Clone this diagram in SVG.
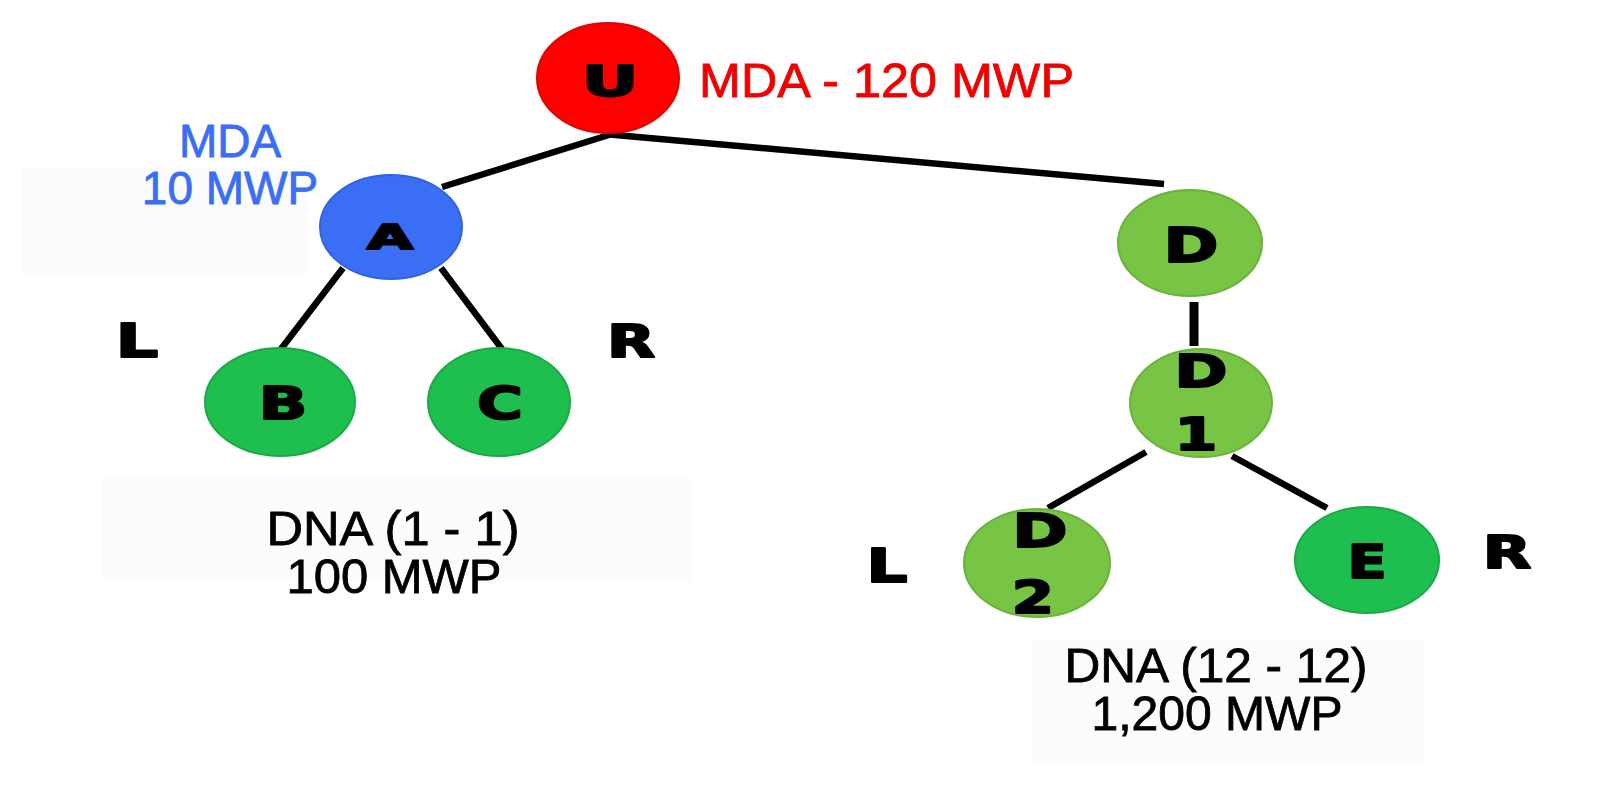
<svg xmlns="http://www.w3.org/2000/svg" width="1600" height="793" viewBox="0 0 1600 793">
  <style>
    .lbl { font-family: "Liberation Sans", Arial, sans-serif; stroke-width: 0.8; }
    .ltr { font-family: "DejaVu Sans", Verdana, sans-serif; font-weight: bold; fill: #000; stroke: #000; stroke-width: 2; stroke-linejoin: round; text-anchor: middle; }
    .edge { stroke: #000; stroke-width: 6.5; fill: none; stroke-linecap: butt; }
    .red { fill: #ff0000; stroke: #e80000; stroke-width: 2; }
    .blue { fill: #3a6ef5; stroke: #3262e0; stroke-width: 2; }
    .green { fill: #1fbf4f; stroke: #19aa45; stroke-width: 2; }
    .lgreen { fill: #78c445; stroke: #6ab23c; stroke-width: 2; }
    .bg { fill: #fcfcfc; }
  </style>
  <rect width="1600" height="793" fill="#ffffff"/>
  <g id="backgrounds">
    <rect class="bg" x="22" y="168" width="286" height="106"/>
    <rect class="bg" x="102" y="478" width="590" height="104"/>
    <rect class="bg" x="1032" y="640" width="392" height="126"/>
  </g>
  <g id="connectors">
    <line class="edge" x1="612" y1="134" x2="442" y2="187"/>
    <line class="edge" x1="604" y1="134" x2="1164" y2="184"/>
    <line class="edge" x1="343" y1="268" x2="281" y2="349"/>
    <line class="edge" x1="441" y1="268" x2="502" y2="349"/>
    <line class="edge" x1="1194" y1="302" x2="1194" y2="346" style="stroke-width:9"/>
    <line class="edge" x1="1146" y1="452" x2="1048" y2="508"/>
    <line class="edge" x1="1232" y1="456" x2="1327" y2="508"/>
  </g>
  <g id="node-U">
    <ellipse class="red" cx="608" cy="78" rx="71" ry="55"/>
    <text class="ltr" font-size="42" transform="translate(610 96) scale(1.65 1)">U</text>
  </g>
  <g id="label-U">
    <text class="lbl" x="699" y="97" font-size="49" fill="#f20000" stroke="#f20000" textLength="375" lengthAdjust="spacingAndGlyphs">MDA - 120 MWP</text>
  </g>
  <g id="node-A">
    <ellipse class="blue" cx="391" cy="227" rx="71" ry="52"/>
    <text class="ltr" font-size="34" transform="translate(390 249) scale(1.75 1)">A</text>
  </g>
  <g id="label-A">
    <text class="lbl" fill="#3a6ef5" stroke="#3a6ef5" font-size="46" text-anchor="middle"><tspan x="230" y="157">MDA</tspan><tspan x="230" y="204">10 MWP</tspan></text>
  </g>
  <g id="node-B">
    <ellipse class="green" cx="280" cy="402" rx="75" ry="54"/>
    <text class="ltr" font-size="44" transform="translate(283 419) scale(1.45 1)">B</text>
  </g>
  <g id="node-C">
    <ellipse class="green" cx="499" cy="402" rx="71" ry="54"/>
    <text class="ltr" font-size="44" transform="translate(500 419) scale(1.42 1)">C</text>
  </g>
  <g id="side-labels-left">
    <text class="ltr" font-size="46" transform="translate(137 357) scale(1.45 1)">L</text>
    <text class="ltr" font-size="44" transform="translate(631 357) scale(1.42 1)">R</text>
  </g>
  <g id="label-left" class="lbl" fill="#000" stroke="#000" font-size="48" text-anchor="middle">
    <text x="393" y="545" textLength="253" lengthAdjust="spacingAndGlyphs">DNA (1 - 1)</text>
    <text x="394" y="593" textLength="215" lengthAdjust="spacingAndGlyphs">100 MWP</text>
  </g>
  <g id="node-D">
    <ellipse class="lgreen" cx="1190" cy="243" rx="72" ry="53"/>
    <text class="ltr" font-size="48" transform="translate(1191 262) scale(1.38 1)">D</text>
  </g>
  <g id="node-D1">
    <ellipse class="lgreen" cx="1201" cy="403" rx="71" ry="54"/>
    <text class="ltr" font-size="44" transform="translate(1201 387) scale(1.45 1)">D</text>
    <text class="ltr" font-size="44" transform="translate(1196 450) scale(1.4 1)">1</text>
  </g>
  <g id="node-D2">
    <ellipse class="lgreen" cx="1037" cy="563" rx="73" ry="54"/>
    <text class="ltr" font-size="46" transform="translate(1040 547) scale(1.45 1)">D</text>
    <text class="ltr" font-size="45" transform="translate(1033 613) scale(1.35 1)">2</text>
  </g>
  <g id="node-E">
    <ellipse class="green" cx="1367" cy="560" rx="72" ry="53"/>
    <text class="ltr" font-size="47" transform="translate(1367 578) scale(1.22 1)">E</text>
  </g>
  <g id="side-labels-right">
    <text class="ltr" font-size="46" transform="translate(887 582) scale(1.4 1)">L</text>
    <text class="ltr" font-size="45" transform="translate(1507 568) scale(1.4 1)">R</text>
  </g>
  <g id="label-right" class="lbl" fill="#000" stroke="#000" font-size="48" text-anchor="middle">
    <text x="1216" y="682" textLength="303" lengthAdjust="spacingAndGlyphs">DNA (12 - 12)</text>
    <text x="1217" y="730" textLength="251" lengthAdjust="spacingAndGlyphs">1,200 MWP</text>
  </g>
</svg>
